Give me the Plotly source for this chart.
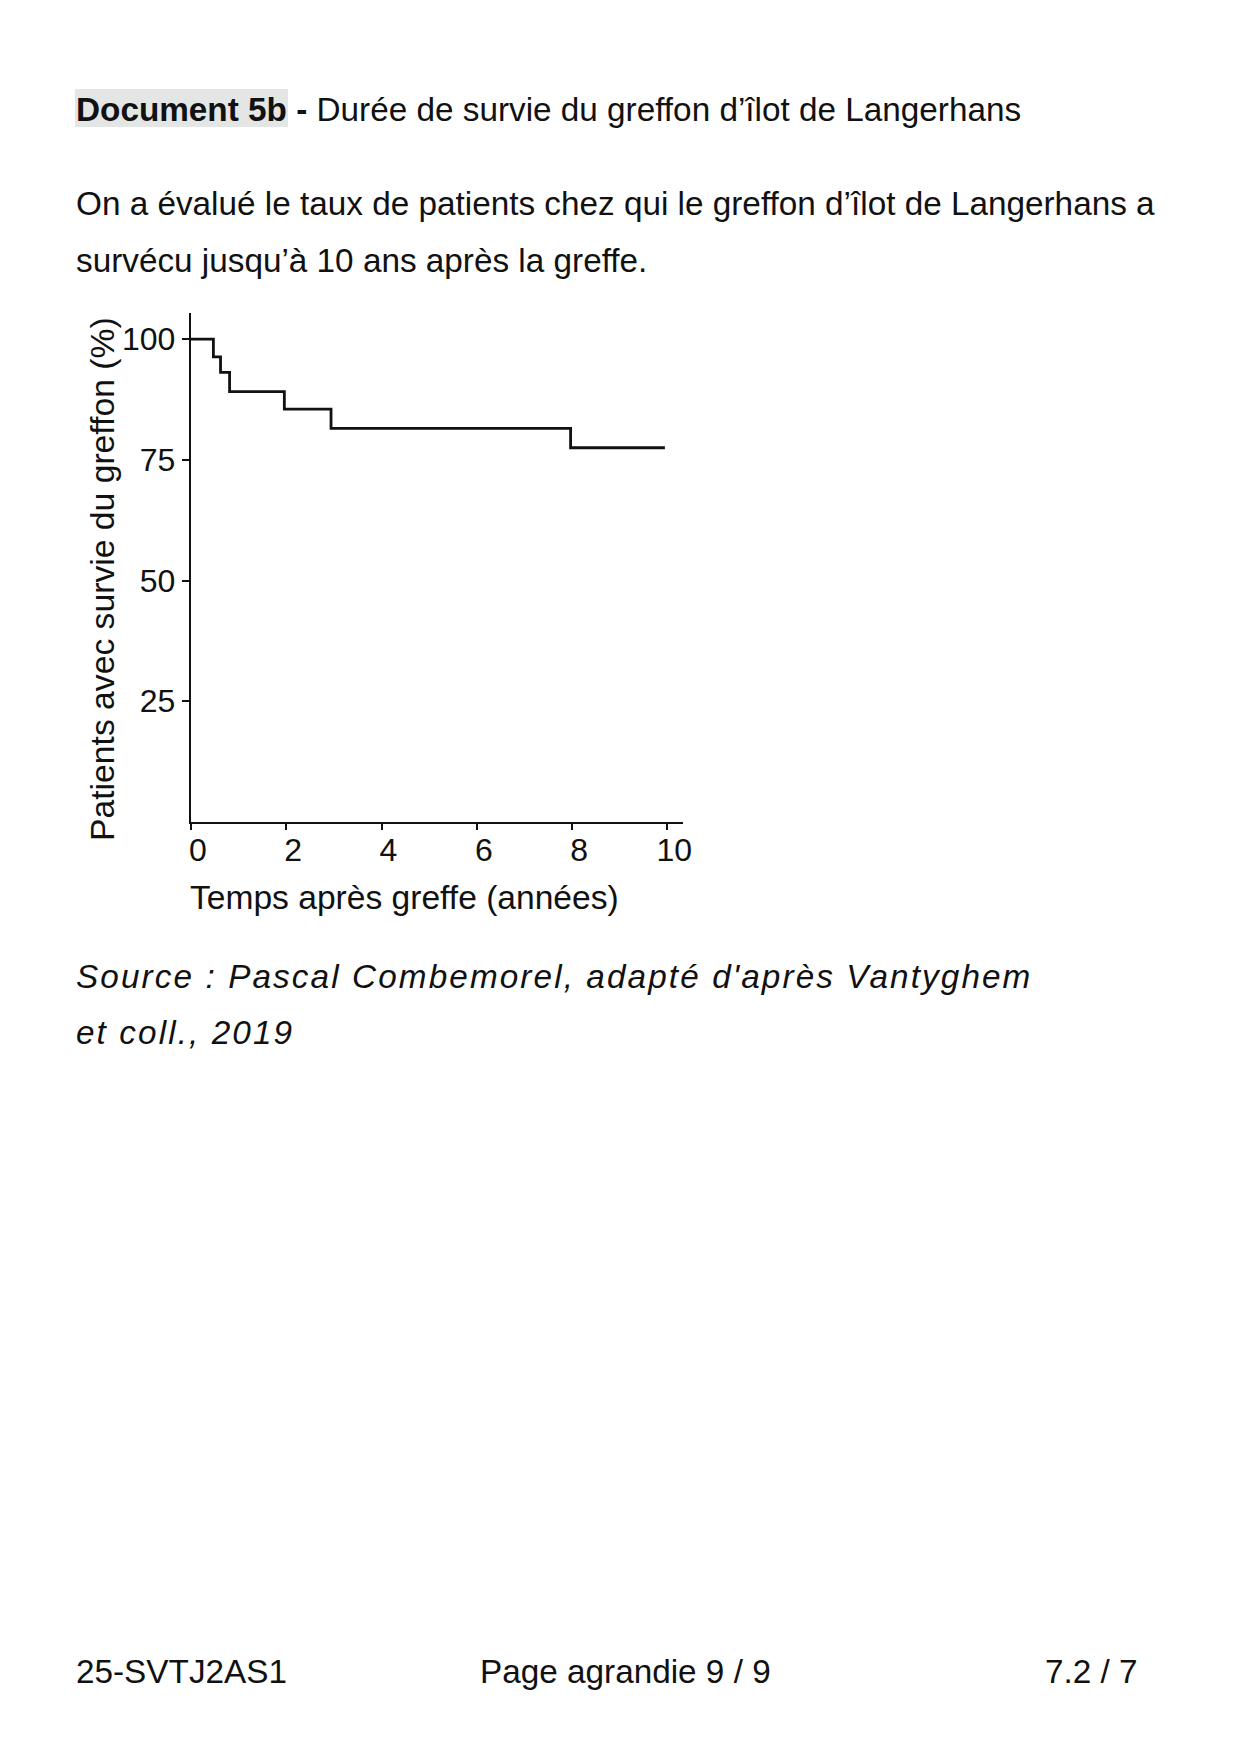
import plotly.graph_objects as go

# ---- data ----
times_years = [0, 0.47, 0.62, 0.81, 1.96, 2.94, 7.97, 9.95]
survival_pct = [100, 96.3, 93.1, 89.1, 85.5, 81.5, 77.5, 77.5]
x_tick_vals = [0, 2, 4, 6, 8, 10]
x_tick_text = ["0", "2", "4", "6", "8", "10"]
y_tick_vals = [25, 50, 75, 100]
y_tick_text = ["25", "50", "75", "100"]

W, H = 1240, 1754
FONT = "Liberation Sans, Arial, Helvetica, sans-serif"
BODY = 33.3
INK = "#111111"


def px(x):
    return x / W


def py(y):
    return 1 - y / H


fig = go.Figure()
fig.add_trace(go.Scatter(
    x=times_years, y=survival_pct, mode="lines",
    line=dict(shape="hv", color=INK, width=2.8),
    hoverinfo="skip", showlegend=False,
))

fig.update_layout(
    width=W, height=H,
    margin=dict(l=0, r=0, t=0, b=0, autoexpand=False),
    paper_bgcolor="white", plot_bgcolor="white",
    font=dict(family=FONT, size=BODY, color=INK),
    showlegend=False,
    xaxis=dict(
        domain=[px(191), px(683)], range=[0, 10.33],
        showgrid=False, zeroline=False,
        showline=True, linecolor=INK, linewidth=2.2,
        ticks="outside", ticklen=6, tickwidth=2, tickcolor=INK,
        tickvals=x_tick_vals, ticktext=x_tick_text,
        tickfont=dict(family=FONT, size=32, color=INK),
        ticklabelshift=7, ticklabelstandoff=-8,
        fixedrange=True,
    ),
    yaxis=dict(
        domain=[py(822), py(313)], range=[0, 105.4],
        showgrid=False, zeroline=False,
        showline=True, linecolor=INK, linewidth=2.2,
        ticks="outside", ticklen=7, tickwidth=2, tickcolor=INK,
        tickvals=y_tick_vals, ticktext=y_tick_text,
        tickfont=dict(family=FONT, size=32, color=INK),
        fixedrange=True,
    ),
)

# highlight behind "Document 5b"
fig.add_shape(type="rect", xref="paper", yref="paper",
              x0=px(75), x1=px(288), y0=py(127), y1=py(89),
              fillcolor="#e4e6e6", line=dict(width=0), layer="below")


def txt(text, x, ycenter, size=BODY, xanchor="left", **kw):
    fig.add_annotation(text=text, xref="paper", yref="paper",
                       x=px(x), y=py(ycenter), xanchor=xanchor, yanchor="middle",
                       showarrow=False, font=dict(family=FONT, size=size, color=INK),
                       borderpad=0, borderwidth=0, **kw)


txt("<b>Document 5b</b> <b>-</b> Durée de survie du greffon d’îlot de Langerhans", 76, 110)
txt("On a évalué le taux de patients chez qui le greffon d’îlot de Langerhans a", 76, 204)
txt("survécu jusqu’à 10 ans après la greffe.", 76, 260)

# axis titles
txt("Temps après greffe (années)", 190, 897, size=33.6)
fig.add_annotation(text="Patients avec survie du greffon (%)", xref="paper", yref="paper",
                   x=px(102), y=py(579), xanchor="center", yanchor="middle",
                   textangle=-90, showarrow=False,
                   font=dict(family=FONT, size=33.7, color=INK), borderpad=0, borderwidth=0)

# source
src_style = "letter-spacing:2.1px"
txt(f"<i><span style='{src_style}'>Source : Pascal Combemorel, adapté d'après Vantyghem</span></i>", 76, 977)
txt(f"<i><span style='{src_style}'>et coll., 2019</span></i>", 76, 1032)

# footer
txt("25-SVTJ2AS1", 76, 1671)
txt("Page agrandie 9 / 9", 625, 1671, xanchor="center")
txt("7.2 / 7", 1138, 1671, xanchor="right")

fig.write_html("out.html", config={"displayModeBar": False, "staticPlot": True},
               post_script="document.body.style.margin='0';document.body.style.overflow='hidden';")
